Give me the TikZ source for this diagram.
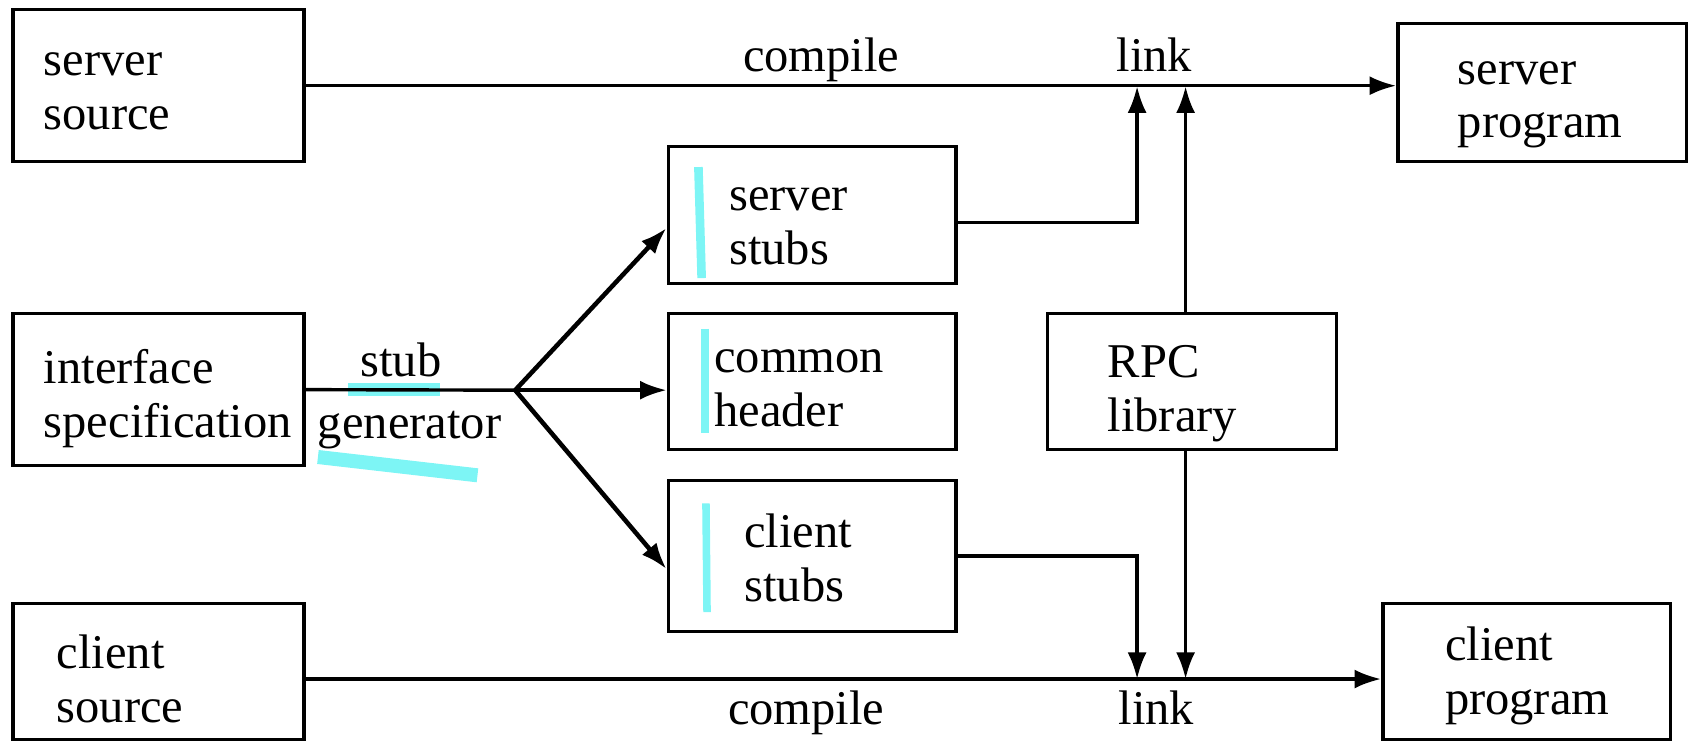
\documentclass[tikz,border=0pt]{standalone}
\usepackage{fontspec}
\setmainfont{Liberation Serif}
\usetikzlibrary{arrows.meta,fit}
\definecolor{hilite}{RGB}{125,245,245}
\begin{document}
\begin{tikzpicture}[x=0.01cm,y=-0.01cm,
  box/.style={draw,line width=0.9pt,inner sep=0pt},
  txt/.style={anchor=west,align=left,inner sep=0pt,font=\fontsize{12.8}{14.2}\selectfont},
  lbl/.style={anchor=base,inner sep=0pt,font=\fontsize{12.8}{14.2}\selectfont},
  wire/.style={line width=0.9pt},
  flow/.style={wire,-{Latex[length=7pt,width=5pt]}},
  fan/.style={line width=1.2pt,-{Latex[length=7pt,width=5pt]}},
  hl/.style={draw=hilite,line cap=butt}]
\useasboundingbox (0,0) rectangle (1568,687);

% highlighter strokes (drawn first, under the lines)
\draw[hl,line width=0.12cm] (323,361) -- (408,361);
\draw[hl,line width=0.13cm] (295,424) -- (443,441);
\draw[hl,line width=0.08cm] (648,155) -- (651,258);
\draw[hl,line width=0.07cm] (654,305) -- (654,402);
\draw[hl,line width=0.07cm] (655,467) -- (656,568);

% boxes
\node[box,fit={(12,9) (282,150)}] (ssrc) {};
\node[box,fit={(1297,22) (1565,150)}] (sprog) {};
\node[box,fit={(620,136) (887,263)}] (sstub) {};
\node[box,fit={(12,291) (282,432)}] (iface) {};
\node[box,fit={(620,291) (887,417)}] (chdr) {};
\node[box,fit={(972,291) (1240,417)}] (rpc) {};
\node[box,fit={(620,446) (887,586)}] (cstub) {};
\node[box,fit={(12,560) (282,686)}] (csrc) {};
\node[box,fit={(1283,560) (1550,686)}] (cprog) {};

% box texts
\node[txt] (ssrc-t) at (40,85) {\strut server\\\strut source};
\node[txt] (sprog-t) at (1352,93) {\strut server\\\strut program};
\node[txt] (sstub-t) at (676,210) {\strut server\\\strut stubs};
\node[txt] (iface-t) at (40,371) {\strut interface\\\strut specification};
\node[txt] (chdr-t) at (662,361) {\strut common\\\strut header};
\node[txt] (rpc-t) at (1027,365) {\strut RPC\\\strut library};
\node[txt] (cstub-t) at (690,523) {\strut client\\\strut stubs};
\node[txt] (csrc-t) at (52,635) {\strut client\\\strut source};
\node[txt] (cprog-t) at (1340,628) {\strut client\\\strut program};

% edge labels
\node[lbl] (compile-s) at (762,66) {compile};
\node[lbl] (link-s) at (1071,66) {link};
\node[lbl] (stub-l) at (372,349) {stub};
\node[lbl] (gen-l) at (380,407) {generator};
\node[lbl] (compile-c) at (748,672) {compile};
\node[lbl] (link-c) at (1073,672) {link};

% junction points
\coordinate (lkA) at (1055,80);
\coordinate (lkB) at (1100,80);
\coordinate (lkC) at (1055,630);
\coordinate (lkD) at (1100,630);
\coordinate (fork) at (478,362);

% server side
\draw[flow] (ssrc.east) -- (ssrc.east -| sprog.west);
\draw[flow] ([yshift=-0.07cm]sstub.east) -| (lkA);
\draw[flow] (rpc.north -| lkB) -- (lkB);

% stub generator fan-out
\draw[wire] (iface.east) -- (fork);
\draw[fan] (fork) -- ([yshift=-0.12cm]sstub.west);
\draw[flow] (fork) -- (fork -| chdr.west);
\draw[fan] (fork) -- ([yshift=-0.12cm]cstub.west);

% client side
\draw[flow] (cstub.east) -| (lkC);
\draw[flow] (rpc.south -| lkD) -- (lkD);
\draw[flow] (csrc.east |- lkC) -- (lkC -| cprog.west);
\end{tikzpicture}
\end{document}
